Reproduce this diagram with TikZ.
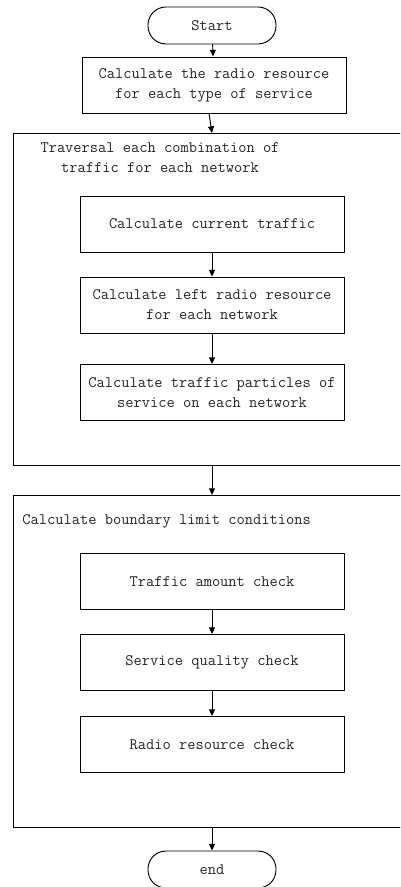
\documentclass[tikz,border=0pt]{standalone}
\usepackage{fontspec}
\usetikzlibrary{arrows.meta}
\tikzset{
  every node/.style={font=\ttfamily\fontsize{12}{15}\selectfont, text=black!85},
  terminal/.style={draw, rounded corners=13.5pt, minimum width=96pt, minimum height=27.75pt, inner sep=0pt},
  process/.style={draw, minimum width=198pt, minimum height=42pt, inner sep=0pt, align=center},
  frame/.style={draw, minimum width=301.5pt, minimum height=249pt, inner sep=0pt},
  flow/.style={-{Triangle[length=5pt,width=4.5pt]}, line width=0.7pt}
}
\begin{document}
\begin{tikzpicture}[x=0.75pt,y=-0.75pt, line width=0.7pt]
  \clip (0,0) rectangle (400,887);
  % outer frames
  \node[frame] (frame1) at (214,299) {};
  \node[frame] (frame2) at (214,661) {};
  \node[align=center] (title1) at (160,158) {Traversal each combination of\\traffic for each network};
  \node[anchor=west, inner sep=0pt] (title2) at (22,521) {Calculate boundary limit conditions};
  \coordinate (top1) at (212,133);
  \coordinate (bot1) at (212,465);
  \coordinate (top2) at (212,495);
  \coordinate (bot2) at (212,827);
  % steps
  \node[terminal] (start) at (212,25.5) {Start};
  \node[process] (radio) at (214,85) {Calculate the radio resource\\for each type of service};
  \node[process] (current) at (212,224) {Calculate current traffic};
  \node[process] (left) at (212,305) {Calculate left radio resource\\for each network};
  \node[process] (particles) at (212,392.5) {Calculate traffic particles of\\service on each network};
  \node[process] (amount) at (212,581.5) {Traffic amount check};
  \node[process] (quality) at (212,662.5) {Service quality check};
  \node[process] (resource) at (212,744.5) {Radio resource check};
  \node[terminal] (end) at (212,869.5) {end};
  % connectors
  \draw[flow] (start) -- (radio);
  \draw[flow] ([xshift=-3.75pt]radio.south) -- (top1);
  \draw[flow] (current) -- (left);
  \draw[flow] (left) -- (particles);
  \draw[flow] (bot1) -- (top2);
  \draw[flow] (amount) -- (quality);
  \draw[flow] (quality) -- (resource);
  \draw[flow] (bot2) -- (end);
\end{tikzpicture}
\end{document}
